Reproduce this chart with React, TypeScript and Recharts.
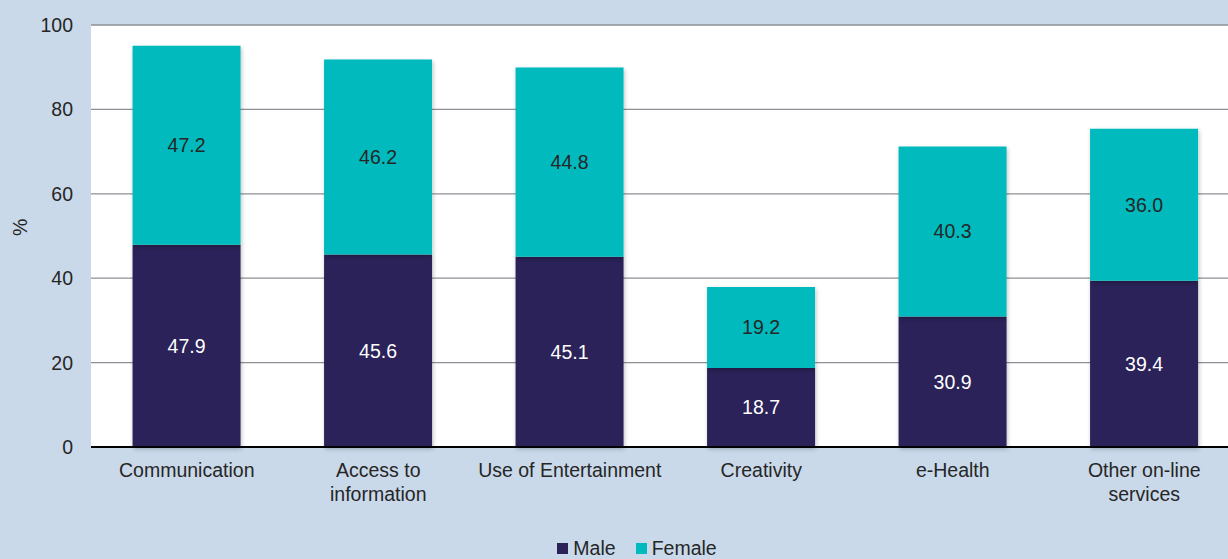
import { BarChart, Bar, XAxis, YAxis, CartesianGrid, LabelList } from "recharts";

// ── Data ──────────────────────────────────────────────────────────────────────

const categories = [
  ["Communication"],
  ["Access to", "information"],
  ["Use of Entertainment"],
  ["Creativity"],
  ["e-Health"],
  ["Other on-line", "services"],
];
const maleValues = [47.9, 45.6, 45.1, 18.7, 30.9, 39.4];
const femaleValues = [47.2, 46.2, 44.8, 19.2, 40.3, 36.0];
const yTicks = [0, 20, 40, 60, 80, 100];

// ── Style ─────────────────────────────────────────────────────────────────────

const MALE_COLOR = "#2b2358";
const FEMALE_COLOR = "#00babd";
const PAGE_BG = "#c9d9ea";
const TEXT = "#262626";
const FONT = "'Liberation Sans', Arial, sans-serif";
const FONT_SIZE = 19.5;

const data = categories.map((lines, i) => ({
  name: lines.join(" "),
  male: maleValues[i],
  female: femaleValues[i],
}));

function CategoryTick(props: any) {
  const { x, y, payload, index } = props;
  const lines = categories[index] ?? [String(payload.value)];
  return (
    <text
      x={x}
      y={y}
      textAnchor="middle"
      fill={TEXT}
      fontSize={FONT_SIZE}
      fontFamily={FONT}
    >
      {lines.map((l, i) => (
        <tspan key={i} x={x} dy={24}>
          {l}
        </tspan>
      ))}
    </text>
  );
}

const fmt = (v: any) => Number(v).toFixed(1);

export default function App() {
  return (
    <div
      style={{
        position: "fixed",
        left: 0,
        top: 0,
        width: 1228,
        height: 559,
        overflow: "hidden",
        background: PAGE_BG,
        fontFamily: FONT,
      }}
    >
      {/* plot runs slightly past the right edge, as in the source image */}
      <BarChart
        width={1240}
        height={559}
        data={data}
        margin={{ top: 25, right: 0, left: 0, bottom: 82 }}
        barCategoryGap="21.7%"
      >
        <defs>
          <filter id="barShadow" x="-10%" y="-10%" width="130%" height="130%">
            <feDropShadow dx="1" dy="2" stdDeviation="2" floodColor="#000" floodOpacity="0.25" />
          </filter>
        </defs>
        <CartesianGrid
          vertical={false}
          fill="#ffffff"
          stroke="#8e9096"
          strokeWidth={1.3}
        />
        <XAxis
          dataKey="name"
          height={30}
          tick={<CategoryTick />}
          tickLine={false}
          axisLine={{ stroke: "#000", strokeWidth: 2 }}
          interval={0}
          tickMargin={0}
        />
        <YAxis
          width={91}
          domain={[0, 100]}
          ticks={yTicks}
          tickLine={false}
          axisLine={false}
          tickMargin={12}
          tick={{ fill: TEXT, fontSize: FONT_SIZE, fontFamily: FONT }}
          label={{
            value: "%",
            angle: -90,
            position: "insideLeft",
            offset: 20,
            fill: TEXT,
            fontSize: FONT_SIZE,
            fontFamily: FONT,
          }}
        />
        <Bar
          dataKey="male"
          stackId="a"
          fill={MALE_COLOR}
          isAnimationActive={false}
          style={{ filter: "url(#barShadow)" }}
        >
          <LabelList
            dataKey="male"
            position="center"
            formatter={fmt}
            fill="#ffffff"
            fontSize={FONT_SIZE}
            fontFamily={FONT}
          />
        </Bar>
        <Bar
          dataKey="female"
          stackId="a"
          fill={FEMALE_COLOR}
          isAnimationActive={false}
          style={{ filter: "url(#barShadow)" }}
        >
          <LabelList
            dataKey="female"
            position="center"
            formatter={fmt}
            fill={TEXT}
            fontSize={FONT_SIZE}
            fontFamily={FONT}
          />
        </Bar>
      </BarChart>
      <div
        style={{
          position: "absolute",
          left: 23,
          width: 1228,
          top: 536,
          display: "flex",
          justifyContent: "center",
          gap: 20,
          fontSize: FONT_SIZE,
          color: TEXT,
          lineHeight: "24px",
        }}
      >
        {[
          { label: "Male", color: MALE_COLOR },
          { label: "Female", color: FEMALE_COLOR },
        ].map((it) => (
          <span key={it.label} style={{ display: "flex", alignItems: "center", gap: 5 }}>
            <span style={{ display: "inline-block", width: 11, height: 11, background: it.color }} />
            {it.label}
          </span>
        ))}
      </div>
    </div>
  );
}
